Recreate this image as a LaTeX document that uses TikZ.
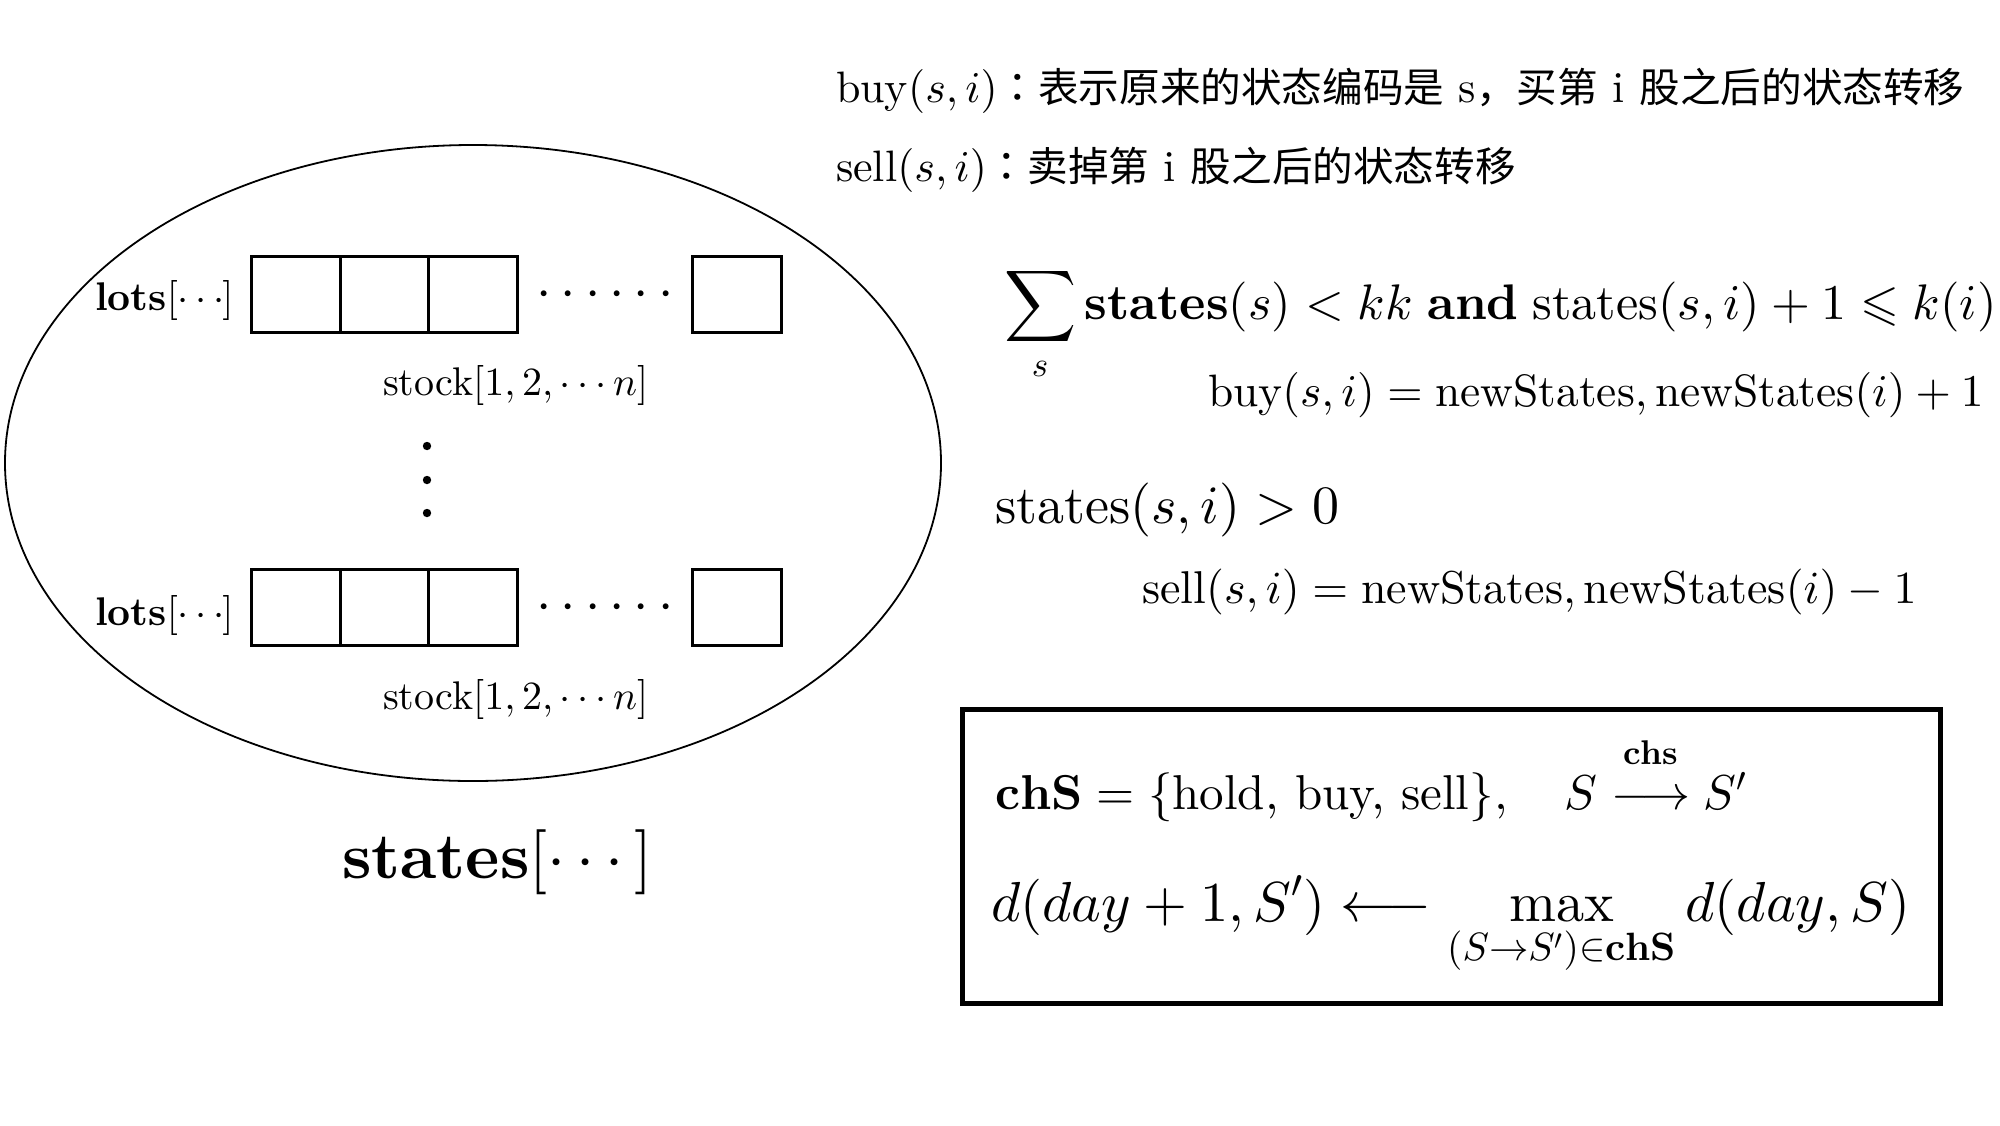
\documentclass[tikz,border=0pt]{standalone}
\usepackage{amsmath,amssymb}
\usepackage{fontspec}
\setmainfont{lmroman10-regular.otf}[BoldFont=lmroman10-bold.otf, ItalicFont=lmroman10-italic.otf, BoldItalicFont=lmroman10-bolditalic.otf]
\DeclareFontShape{OT1}{cmr}{m}{n}{<->cmr10}{}
\DeclareFontShape{OT1}{cmr}{bx}{n}{<->cmbx10}{}
\DeclareFontShape{OML}{cmm}{m}{it}{<->cmmi10}{}
\DeclareFontShape{OMS}{cmsy}{m}{n}{<->cmsy10}{}
\DeclareFontShape{OMX}{cmex}{m}{n}{<->cmex10}{}
\newfontfamily\cjk{Noto Sans CJK SC}
\newfontfamily\cjktc{Noto Sans CJK TC}
\newcommand\fsz[1]{\fontsize{#1}{#1}\selectfont}
\newcommand\tdots{{\cdot}\mkern3mu{\cdot}\mkern3mu{\cdot}\mkern-1mu}
\tikzset{
  txt/.style={anchor=base west, inner sep=0pt, outer sep=0pt},
  cell/.style={draw, line width=1.5pt, minimum width=44.2pt, minimum height=38pt, inner sep=0pt},
}
\begin{document}
\begin{tikzpicture}[x=0.5pt,y=-0.5pt]
\useasboundingbox (0,0) rectangle (2000,1125);
% ellipse
\draw[line width=0.9pt] (473,463) ellipse [x radius=234pt, y radius=159pt];
% row 1 cells
\node[cell] (a1) at (296,294) {};
\node[cell] (a2) at (384.5,294) {};
\node[cell] (a3) at (473,294) {};
\node[cell] (an) at (737,294) {};
% row 2 cells
\node[cell] (b1) at (296,607) {};
\node[cell] (b2) at (384.5,607) {};
\node[cell] (b3) at (473,607) {};
\node[cell] (bn) at (737,607) {};
% horizontal dots
\node[anchor=base, inner sep=0pt, font=\fsz{27.5pt}] (hd1) at (605,307) {$\cdotp\cdotp\cdotp\cdotp\cdotp\cdotp$};
\node[anchor=base, inner sep=0pt, font=\fsz{27.5pt}] (hd2) at (605,620) {$\cdotp\cdotp\cdotp\cdotp\cdotp\cdotp$};
% vertical dots
\fill (427,446) circle (2.1pt);
\fill (427,480) circle (2.1pt);
\fill (427,513) circle (2.1pt);
% labels
\node[txt, font=\fsz{20pt}] (lots1) at (95,310) {\textbf{lots}$[\tdots]$};
\node[txt, font=\fsz{20pt}] (stock1) at (383,395) {stock$[1,2,\cdots n]$};
\node[txt, font=\fsz{20pt}] (lots2) at (95,625) {\textbf{lots}$[\tdots]$};
\node[txt, font=\fsz{20pt}] (stock2) at (383,709) {stock$[1,2,\cdots n]$};
\node[txt, font=\fsz{32.5pt}] (states) at (342,878) {\textbf{states}$[\cdots]$};
% top definitions
\node[txt, font=\fsz{22pt}] (buydef) at (836,102) {buy$(s,i)${\cjktc\fsz{20.3pt}：}{\cjk\fsz{20.3pt}表示原来的状态编码是} s{\cjk\fsz{20.3pt}，买第} i {\cjk\fsz{20.3pt}股之后的状态转移}};
\node[txt, font=\fsz{22pt}] (selldef) at (836,181) {sell$(s,i)${\cjktc\fsz{20.3pt}：}{\cjk\fsz{20.3pt}卖掉第} i {\cjk\fsz{20.3pt}股之后的状态转移}};
% right formulas
\node[txt, font=\fsz{25pt}] (sum) at (1004,319) {$\displaystyle\sum_{s}\textbf{states}(s)<kk\;\textbf{and}\;\text{states}(s,i)+1\leqslant k(i)$};
\node[txt, font=\fsz{22.7pt}] (buyeq) at (1208,406) {$\text{buy}(s,i)=\text{newStates},\text{newStates}(i)+1$};
\node[txt, font=\fsz{27pt}] (pos) at (995,523) {$\text{states}(s,i)>0$};
\node[txt, font=\fsz{23pt}] (selleq) at (1142,603) {$\text{sell}(s,i)=\text{newStates},\text{newStates}(i)-1$};
% framed box
\draw[line width=2.5pt] (962,709) rectangle (1940,1003);
\node[txt, font=\fsz{24.5pt}] (chs) at (995,809) {$\mathbf{chS}=\{\text{hold, buy, sell}\},\quad S\stackrel{\raisebox{0.35em}{$\scriptstyle\textbf{chs}$}}{\longrightarrow}S'$};
\node[txt, font=\fsz{28.2pt}] (rec) at (991,921) {$\displaystyle d(day+1,S')\longleftarrow\max_{(S\to S')\in\mathbf{chS}}d(day,S)$};
\end{tikzpicture}
\end{document}
